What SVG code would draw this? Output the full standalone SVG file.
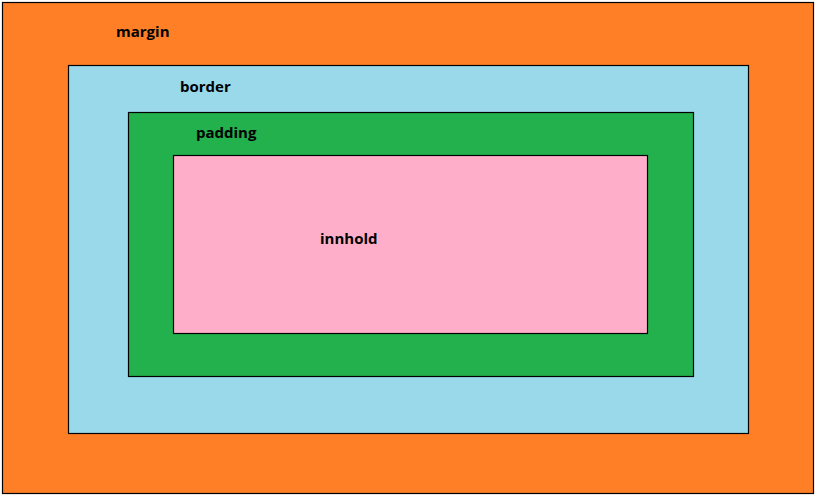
<svg xmlns="http://www.w3.org/2000/svg" width="817" height="496" viewBox="0 0 817 496">
<style>
rect{stroke:#000;stroke-width:1.2}
text{font-family:"Open Sans","Liberation Sans",sans-serif;font-weight:bold;font-size:15px;fill:#000}
</style>
<rect x="0" y="0" width="817" height="496" fill="#fff" style="stroke:none"/>
<g id="margin"><rect x="2.5" y="2.5" width="811" height="491" fill="#FF7F27"/><text x="116" y="37">margin</text></g>
<g id="border"><rect x="68.5" y="65.5" width="680" height="368" fill="#99D9EA"/><text x="180" y="92">border</text></g>
<g id="padding"><rect x="128.5" y="112.5" width="565" height="264" fill="#22B14C"/><text x="196" y="138">padding</text></g>
<g id="innhold"><rect x="173.5" y="155.5" width="474" height="178" fill="#FFAEC9"/><text x="320" y="244">innhold</text></g>
<g id="connectors"/>
</svg>
